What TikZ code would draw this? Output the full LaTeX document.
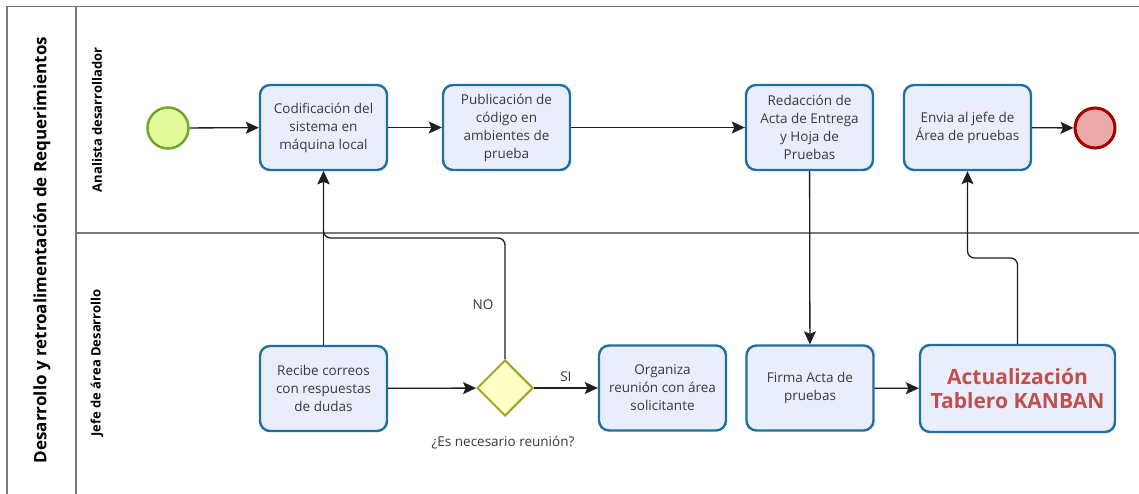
\documentclass[tikz,border=0pt]{standalone}
\usepackage{fontspec}
\setmainfont{Open Sans}
\usetikzlibrary{shapes.geometric,arrows.meta}
\definecolor{taskfill}{HTML}{EAEEFC}
\definecolor{taskline}{HTML}{1F6FA0}
\definecolor{txt}{HTML}{3A3A3A}
\definecolor{poolline}{HTML}{7A7A7A}
\definecolor{startfill}{HTML}{E3FB9C}
\definecolor{startline}{HTML}{6AA828}
\definecolor{endfill}{HTML}{EDA8A8}
\definecolor{endline}{HTML}{A30000}
\definecolor{gwfill}{HTML}{FFFFC6}
\definecolor{gwline}{HTML}{A3A32A}
\definecolor{kanban}{HTML}{C0504D}
\tikzset{
  task/.style={draw=taskline, line width=2.4pt, fill=taskfill, rounded corners=10pt,
    minimum width=127pt, minimum height=85pt, align=center,
    inner sep=2pt, text=txt, font=\fontsize{13.5}{18}\selectfont},
  startev/.style={circle, draw=startline, line width=2.4pt, fill=startfill, minimum size=41pt, inner sep=0pt},
  endev/.style={circle, draw=endline, line width=3pt, fill=endfill, minimum size=40pt, inner sep=0pt},
  gateway/.style={diamond, draw=gwline, line width=2pt, fill=gwfill, minimum width=56pt, minimum height=56pt, inner sep=0pt},
  flow/.style={draw=black!88, line width=1.3pt, -{Stealth[length=13pt,width=12pt,inset=2.5pt]}},
  lbl/.style={text=txt, font=\fontsize{13.5}{16}\selectfont, inner sep=1pt},
  poolrule/.style={draw=poolline, line width=1.6pt},
  lanetitle/.style={rotate=90, font=\bfseries\fontsize{13}{16}\selectfont, text=black},
}
\begin{document}
\begin{tikzpicture}[x=1pt,y=-1pt]
  \useasboundingbox (0,0) rectangle (1139,494);
  \fill[white] (0,0) rectangle (1139,494);

  % pool and lanes
  \draw[poolrule] (7,494) -- (7,6.5) -- (1139,6.5);
  \draw[poolrule] (76,6.5) -- (76,494);
  \draw[poolrule] (76,233) -- (1139,233);
  \node[rotate=90, font=\bfseries\fontsize{17}{20}\selectfont] (pooltitle) at (42,250)
    {Desarrollo y retroalimentación de Requerimientos};
  \node[lanetitle] (lane1) at (97,120) {Analista desarrollador};
  \node[lanetitle] (lane2) at (97,363) {Jefe de área Desarrollo};

  % upper lane
  \node[startev] (start) at (168,128) {};
  \node[task] (cod) at (323.5,127.5) {Codificación del\\sistema en\\máquina local};
  \node[task] (pub) at (506.5,127.5) {Publicación de\\código en\\ambientes de\\prueba};
  \node[task] (red) at (809.5,127.5) {Redacción de\\Acta de Entrega\\y Hoja de\\Pruebas};
  \node[task] (env) at (967.5,127.5) {Envia al jefe de\\Área de pruebas};
  \node[endev] (end) at (1095,128) {};

  % lower lane
  \node[task] (rec) at (323.5,388.5) {Recibe correos\\con respuestas\\de dudas};
  \node[gateway] (gw) at (505,388) {};
  \node[lbl] (gwlabel) at (503,443) {¿Es necesario reunión?};
  \node[task] (org) at (662.5,388) {Organiza\\reunión con área\\solicitante};
  \node[task] (fir) at (810,388) {Firma Acta de\\pruebas};
  \node[task, minimum width=195pt, minimum height=87pt,
        text=kanban, font=\bfseries\fontsize{21}{24}\selectfont] (act) at (1017.5,388.5)
        {Actualización\\Tablero KANBAN};

  % sequence flows
  \draw[flow] (start) -- (cod);
  \draw[flow] (cod) -- (pub);
  \draw[flow] (pub) -- (red);
  \draw[flow] (env) -- (end);
  \draw[flow] (red) -- (fir);
  \draw[flow] (fir) -- (act);
  \draw[flow] (rec) -- (gw);
  \draw[flow] (gw) -- node[lbl, above=5pt] (si) {SI} (org);
  \draw[flow] (rec) -- (cod);
  \draw[flow, rounded corners=7pt] (gw.north) -- (gw.north |- 0,238)
     node[lbl, pos=0.45, left=10pt] (no) {NO} -- (cod.south |- 0,238) -- (cod.south);
  \draw[flow, rounded corners=7pt] (act.north) -- (act.north |- 0,258)
     -- (env.south |- 0,258) -- (env.south);
\end{tikzpicture}
\end{document}
